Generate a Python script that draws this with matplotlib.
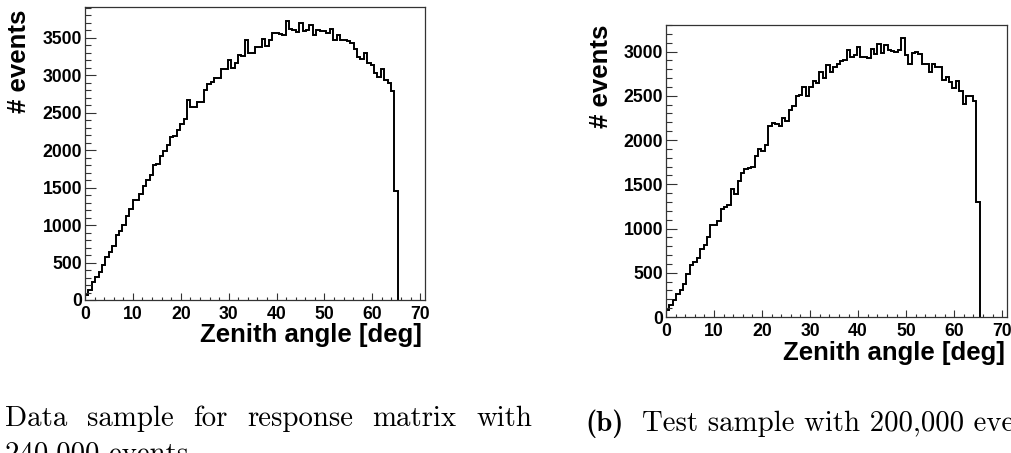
import matplotlib
matplotlib.use("Agg")
import matplotlib.pyplot as plt
import numpy as np
from matplotlib.ticker import MultipleLocator

# zenith angle histograms, 0.71 deg bins starting at 0
bin_width = 0.71

counts_resp = [67, 133, 244, 311, 378, 467, 578, 644, 724, 867,
               920, 1000, 1120, 1209, 1333, 1340, 1409, 1520, 1600, 1667,
               1800, 1810, 1920, 1991, 2067, 2178, 2185, 2267, 2347, 2418,
               2667, 2569, 2578, 2644, 2644, 2809, 2889, 2911, 2969, 2956,
               3089, 3089, 3209, 3102, 3164, 3267, 3253, 3476, 3298, 3298,
               3378, 3378, 3484, 3391, 3467, 3564, 3569, 3556, 3533, 3724,
               3622, 3609, 3578, 3698, 3591, 3600, 3667, 3533, 3600, 3591,
               3591, 3569, 3622, 3467, 3533, 3476, 3476, 3458, 3431, 3356,
               3244, 3222, 3298, 3164, 3133, 3031, 2978, 3089, 2933, 2898,
               2791, 1458]

counts_test = [75, 132, 188, 263, 309, 376, 489, 583, 621, 666,
               764, 817, 903, 1035, 1042, 1084, 1223, 1242, 1261, 1441,
               1385, 1532, 1630, 1675, 1686, 1694, 1825, 1893, 1874, 1946,
               2153, 2190, 2183, 2157, 2247, 2213, 2341, 2390, 2495, 2514,
               2597, 2495, 2597, 2672, 2642, 2766, 2699, 2849, 2774, 2823,
               2860, 2898, 2905, 3022, 2936, 2966, 3048, 2943, 2943, 2924,
               3030, 2973, 3086, 2981, 3079, 3018, 3011, 3000, 3018, 3150,
               2966, 2860, 2981, 3000, 2973, 2860, 2860, 2774, 2860, 2823,
               2823, 2680, 2717, 2661, 2586, 2665, 2559, 2409, 2495, 2495,
               2446, 1298]

x_title = "Zenith angle [deg]"
y_title = "# events"
caption_a = ["Data", "sample", "for", "response", "matrix", "with"]
caption_a2 = "240,000 events"
caption_b = "Test sample with 200,000 events"

W, H = 1011, 453
fig = plt.figure(figsize=(W / 100, H / 100), dpi=100)
fig.patch.set_facecolor("white")

sans = ["Liberation Sans", "DejaVu Sans"]
cap_size = 20.8


def px(x, y):
    return x / W, 1 - y / H


def draw_hist(rect, counts, ymax, xlab_pos, ylab_pos):
    ax = fig.add_axes(rect)
    edges = np.arange(len(counts) + 1) * bin_width
    ax.stairs(counts, edges, baseline=0, color="black", lw=1.4)
    ax.set_xlim(0, 71)
    ax.set_ylim(0, ymax)
    ax.xaxis.set_major_locator(MultipleLocator(10))
    ax.xaxis.set_minor_locator(MultipleLocator(2))
    ax.yaxis.set_major_locator(MultipleLocator(500))
    ax.yaxis.set_minor_locator(MultipleLocator(100))
    ax.tick_params(which="both", direction="in", top=False, right=False,
                   color="#333333", width=0.8)
    ax.tick_params(axis="y", which="major", length=8, pad=2)
    ax.tick_params(axis="y", which="minor", length=4)
    ax.tick_params(axis="x", which="major", length=4.7, pad=4)
    ax.tick_params(axis="x", which="minor", length=2.5)
    for lab in ax.get_xticklabels() + ax.get_yticklabels():
        lab.set_family(sans)
        lab.set_weight("bold")
        lab.set_fontsize(12.7)
    for s in ax.spines.values():
        s.set_color("#333333")
        s.set_linewidth(0.9)
    fx, fy = px(*xlab_pos)
    fig.text(fx, fy, x_title, ha="right", va="baseline", family=sans,
             weight="bold", fontsize=18.5)
    fx, fy = px(*ylab_pos)
    fig.text(fx, fy, y_title, ha="center", va="top", rotation=90,
             family=sans, weight="bold", fontsize=18.5)
    return ax


draw_hist([85 / W, 1 - 300 / H, 340 / W, 293 / H], counts_resp, 3910,
          (422, 342), (19, 10))
draw_hist([666 / W, 1 - 317 / H, 341 / W, 292 / H], counts_test, 3300,
          (1005, 360), (601, 25))

# caption (a): first line justified between x=5 and x=532
words = []
for word in caption_a:
    fx, fy = px(5, 426)
    words.append(fig.text(fx, fy, word, family="cmr10", fontsize=cap_size,
                          va="baseline"))
fig.canvas.draw()
renderer = fig.canvas.get_renderer()
widths = [w.get_window_extent(renderer).width for w in words]
gap = (532 - 5 - sum(widths)) / (len(words) - 1)
x = 5
for w, wd in zip(words, widths):
    w.set_x(x / W)
    x += wd + gap

fx, fy = px(5, 461)
fig.text(fx, fy, caption_a2, family="cmr10", fontsize=cap_size,
         va="baseline")

fx, fy = px(585, 431)
fig.text(fx, fy, "(b)", family="cmb10", fontsize=cap_size, va="baseline")
fx, fy = px(642, 431)
fig.text(fx, fy, caption_b, family="cmr10", fontsize=cap_size,
         va="baseline")

fig.savefig("out.png", dpi=100)
